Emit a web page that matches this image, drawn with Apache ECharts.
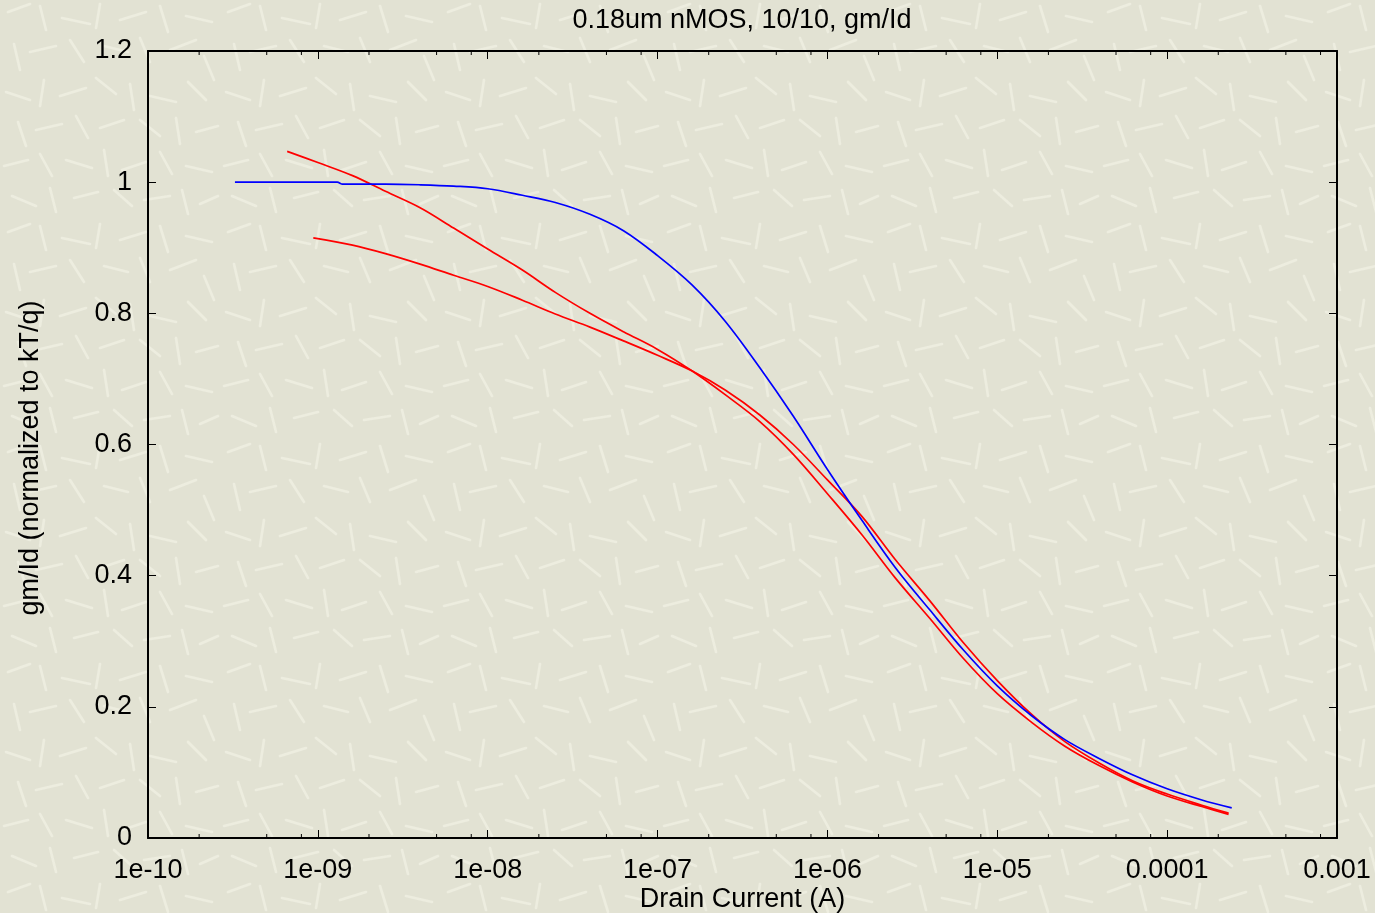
<!DOCTYPE html>
<html>
<head>
<meta charset="utf-8">
<title>0.18um nMOS, 10/10, gm/Id</title>
<script src="https://cdn.jsdelivr.net/npm/echarts@6/dist/echarts.min.js"></script>
<style>
  html, body { margin: 0; padding: 0; }
  body { background-color: #e2e2d3; }
  #chart { width: 1375px; height: 913px; }
</style>
</head>
<body>
<div id="chart"></div>
<script>
// ---- data -------------------------------------------------------------
const chartTitle = '0.18um nMOS, 10/10, gm/Id';
const xAxisTitle = 'Drain Current (A)';
const yAxisTitle = 'gm/Id (normalized to kT/q)';

const xTickLabels = ['1e-10', '1e-09', '1e-08', '1e-07', '1e-06', '1e-05', '0.0001', '0.001'];
const yTickLabels = ['0', '0.2', '0.4', '0.6', '0.8', '1', '1.2'];
const minorTickValues = [
  2e-10, 5e-10, 8e-10, 2e-9, 5e-9, 8e-9, 2e-8, 5e-8, 8e-8, 2e-7, 5e-7, 8e-7,
  2e-6, 5e-6, 8e-6, 2e-5, 5e-5, 8e-5, 2e-4, 5e-4, 8e-4
];

// blue trace
const blueCurrent = [3.25e-10, 6.3e-10, 1e-9, 1.3e-9, 1.4e-9, 2.5e-9, 4e-9, 6.3e-9,
  1e-8, 1.6e-8, 2.5e-8, 4e-8, 6.3e-8, 1e-7, 1.6e-7, 2.5e-7, 4e-7, 6.3e-7,
  1e-6, 1.6e-6, 2.5e-6, 4e-6, 6.3e-6, 1e-5, 1.6e-5, 2.5e-5, 4e-5, 6.3e-5,
  1e-4, 1.6e-4, 2.4e-4];
const blueGmId = [1.000, 1.000, 1.000, 1.000, 0.997, 0.997, 0.996, 0.994,
  0.990, 0.980, 0.969, 0.951, 0.926, 0.888, 0.843, 0.788, 0.717, 0.643,
  0.562, 0.484, 0.413, 0.348, 0.287, 0.232, 0.186, 0.150, 0.121, 0.096,
  0.075, 0.058, 0.046];

// first red trace (starts above 1)
const redACurrent = [6.6e-10, 1e-9, 1.6e-9, 2.5e-9, 4e-9, 6.3e-9,
  1e-8, 1.6e-8, 2.5e-8, 4e-8, 6.3e-8, 1e-7, 1.6e-7, 2.5e-7, 4e-7, 6.3e-7,
  1e-6, 1.6e-6, 2.5e-6, 4e-6, 6.3e-6, 1e-5, 1.6e-5, 2.5e-5, 4e-5, 6.3e-5,
  1e-4, 1.6e-4, 2.3e-4];
const redAGmId = [1.047, 1.030, 1.010, 0.986, 0.961, 0.930,
  0.898, 0.866, 0.832, 0.800, 0.772, 0.745, 0.712, 0.676, 0.635, 0.585,
  0.525, 0.462, 0.397, 0.335, 0.274, 0.220, 0.176, 0.140, 0.110, 0.085,
  0.064, 0.048, 0.036];

// second red trace (starts near 0.92)
const redBCurrent = [9.4e-10, 1.6e-9, 2.5e-9, 4e-9, 6.3e-9,
  1e-8, 1.6e-8, 2.5e-8, 4e-8, 6.3e-8, 1e-7, 1.6e-7, 2.5e-7, 4e-7, 6.3e-7,
  1e-6, 1.6e-6, 2.5e-6, 4e-6, 6.3e-6, 1e-5, 1.6e-5, 2.5e-5, 4e-5, 6.3e-5,
  1e-4, 1.6e-4, 2.3e-4];
const redBGmId = [0.915, 0.904, 0.891, 0.875, 0.858,
  0.841, 0.820, 0.799, 0.779, 0.758, 0.736, 0.712, 0.683, 0.645, 0.600,
  0.546, 0.490, 0.425, 0.362, 0.298, 0.240, 0.188, 0.147, 0.114, 0.087,
  0.067, 0.050, 0.038];

// ---- paper texture behind the chart ----------------------------------
(function () {
  const strokes = [
    [8, 12, 30, 4], [40, 6, 46, 30], [62, 18, 90, 24], [100, 4, 96, 28], [120, 20, 146, 12],
    [160, 6, 168, 32], [186, 16, 212, 22], [14, 44, 20, 70], [30, 52, 56, 46], [70, 40, 84, 62],
    [104, 46, 128, 52], [140, 38, 150, 62], [170, 50, 196, 40], [204, 56, 214, 80], [6, 92, 30, 100],
    [44, 80, 40, 106], [60, 96, 86, 88], [96, 78, 116, 94], [130, 84, 134, 110], [150, 96, 176, 102],
    [188, 82, 206, 100], [18, 122, 26, 146], [36, 130, 62, 124], [76, 116, 88, 138], [100, 128, 124, 120],
    [140, 120, 160, 136], [176, 118, 180, 144], [196, 132, 218, 126], [4, 166, 28, 160], [40, 154, 52, 176],
    [66, 160, 92, 168], [104, 150, 108, 176], [122, 170, 146, 162], [160, 152, 172, 174], [186, 166, 212, 172],
    [12, 196, 36, 206], [50, 188, 56, 212], [74, 198, 98, 192], [114, 190, 132, 206], [144, 200, 170, 196],
    [182, 190, 188, 214], [200, 204, 218, 196]
  ];
  let lines = '';
  strokes.forEach(function (s) {
    lines += '<line x1="' + s[0] + '" y1="' + s[1] + '" x2="' + s[2] + '" y2="' + s[3] + '"/>';
  });
  const svg = '<svg xmlns="http://www.w3.org/2000/svg" width="220" height="220">' +
    '<g stroke="#efefe2" stroke-width="2.6" stroke-linecap="round" opacity="0.85">' + lines + '</g></svg>';
  document.body.style.backgroundImage = 'url("data:image/svg+xml,' + encodeURIComponent(svg) + '")';
})();

// ---- chart ------------------------------------------------------------
const FONT = '"Liberation Sans", Arial, Helvetica, sans-serif';
const pairs = (xs, ys) => xs.map((x, i) => [x, ys[i]]);

const chart = echarts.init(document.getElementById('chart'), null, { renderer: 'canvas' });

const xAxisBase = {
  type: 'log',
  logBase: 10,
  min: 1e-10,
  max: 1e-3,
  splitNumber: 7,
  splitLine: { show: false },
  axisLine: { show: true, onZero: false, lineStyle: { color: '#000', width: 2 } },
  axisTick: { show: true, inside: true, length: 8, lineStyle: { color: '#000', width: 1 } }
};
const yAxisBase = {
  type: 'value',
  min: 0,
  max: 1.2,
  interval: 0.2,
  splitLine: { show: false },
  axisLine: { show: true, onZero: false, lineStyle: { color: '#000', width: 2 } },
  axisTick: { show: true, inside: true, length: 8, lineStyle: { color: '#000', width: 1 } }
};

const lineSeries = (name, data, color) => ({
  name: name,
  type: 'line',
  data: data,
  xAxisIndex: 0,
  yAxisIndex: 0,
  showSymbol: false,
  smooth: 0.35,
  lineStyle: { color: color, width: 1.7 },
  itemStyle: { color: color },
  silent: true,
  animation: false
});

chart.setOption({
  backgroundColor: 'transparent',
  animation: false,
  textStyle: { fontFamily: FONT },
  grid: { left: 148, right: 38, top: 51, bottom: 75, containLabel: false, outerBoundsMode: 'none' },
  xAxis: [
    Object.assign({}, xAxisBase, {
      position: 'bottom',
      axisLabel: {
        show: true,
        margin: 19,
        color: '#000',
        fontSize: 27,
        fontFamily: FONT,
        formatter: (v) => xTickLabels[Math.round(Math.log10(v)) + 10]
      },
      name: xAxisTitle,
      nameLocation: 'middle',
      nameGap: 48,
      nameMoveOverlap: false,
      nameTextStyle: { color: '#000', fontSize: 27, fontFamily: FONT }
    }),
    Object.assign({}, xAxisBase, {
      position: 'top',
      axisLabel: { show: false }
    })
  ],
  yAxis: [
    Object.assign({}, yAxisBase, {
      position: 'left',
      axisLabel: {
        show: true,
        margin: 16,
        color: '#000',
        fontSize: 27,
        fontFamily: FONT,
        formatter: (v) => yTickLabels[Math.round(v / 0.2)]
      }
    }),
    Object.assign({}, yAxisBase, {
      position: 'right',
      axisLabel: { show: false }
    })
  ],
  graphic: [
    {
      type: 'text',
      x: 742,
      y: 21,
      style: { text: chartTitle, fill: '#000', font: '27px ' + FONT, align: 'center', verticalAlign: 'middle' }
    },
    {
      type: 'text',
      x: 31,
      y: 458,
      rotation: Math.PI / 2,
      style: { text: yAxisTitle, fill: '#000', font: '27px ' + FONT, align: 'center', verticalAlign: 'middle' }
    }
  ],
  series: [
    {
      // minor log ticks at 2, 5 and 8 of every decade, on bottom and top frames
      type: 'custom',
      xAxisIndex: 0,
      yAxisIndex: 0,
      silent: true,
      clip: false,
      data: minorTickValues.map((v) => [v, 0]),
      renderItem: function (params, api) {
        const v = api.value(0);
        const b = api.coord([v, 0]);
        const t = api.coord([v, 1.2]);
        const st = { stroke: '#000', lineWidth: 1 };
        return {
          type: 'group',
          children: [
            { type: 'line', shape: { x1: b[0], y1: b[1], x2: b[0], y2: b[1] - 4 }, style: st },
            { type: 'line', shape: { x1: t[0], y1: t[1], x2: t[0], y2: t[1] + 4 }, style: st }
          ]
        };
      }
    },
    lineSeries('red A', pairs(redACurrent, redAGmId), '#ff0000'),
    lineSeries('red B', pairs(redBCurrent, redBGmId), '#ff0000'),
    lineSeries('blue', pairs(blueCurrent, blueGmId), '#0000ff')
  ]
});
</script>
</body>
</html>
